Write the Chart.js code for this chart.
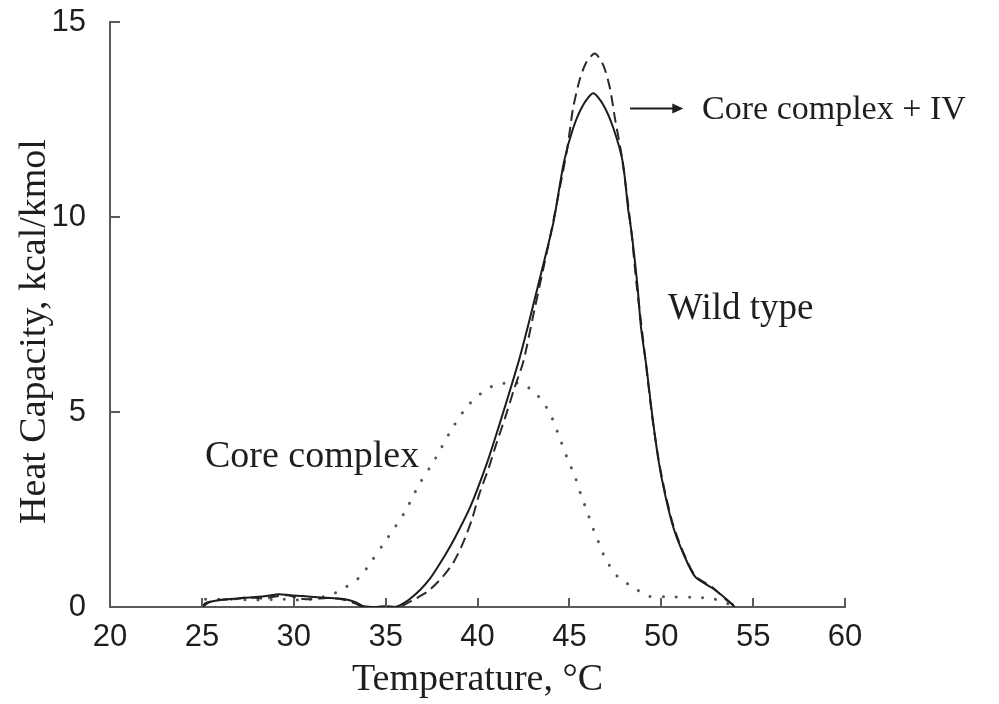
<!DOCTYPE html>
<html>
<head>
<meta charset="utf-8">
<title>Heat capacity</title>
<script src="https://cdn.jsdelivr.net/npm/chart.js@4/dist/chart.umd.min.js"></script>
<style>
  html, body { margin: 0; padding: 0; background: #ffffff; }
  canvas { display: block; }
</style>
</head>
<body>
<canvas id="cp" width="999" height="704"></canvas>
<script>
// Temperature axis ticks (°C) and heat-capacity ticks (kcal/kmol)
const tempTicks = [20, 25, 30, 35, 40, 45, 50, 55, 60];
const cpTicks = [0, 5, 10, 15];

// Wild type (solid)
const wildT = [25.0, 25.2, 25.6, 26.3, 27.0, 27.8, 28.5, 29.2, 29.8, 30.5, 31.3, 32.0, 32.8, 33.4, 33.8, 34.5, 35.0, 35.5, 35.8,
  36.3, 36.9, 37.4, 37.8, 38.2, 38.7, 39.6, 40.5, 41.2, 41.7, 42.3, 42.8, 43.3, 43.8, 44.15, 44.7, 45.2, 45.75, 46.3,
  46.85, 47.4, 47.9, 48.2, 48.4, 48.7, 48.9, 49.2, 49.5, 49.85, 50.2, 50.65, 51.2, 51.85, 52.8, 53.6, 54.0];
const wildCp = [0.0, 0.1, 0.15, 0.2, 0.22, 0.25, 0.28, 0.33, 0.3, 0.28, 0.25, 0.23, 0.2, 0.12, 0.02, 0.0, 0.02, 0.0, 0.05,
  0.2, 0.45, 0.72, 1.0, 1.3, 1.71, 2.56, 3.67, 4.69, 5.45, 6.4, 7.3, 8.25, 9.2, 9.9, 11.4, 12.27, 12.87, 13.17,
  12.87, 12.27, 11.42, 10.2, 9.55, 8.27, 7.16, 6.14, 4.95, 3.76, 2.9, 2.05, 1.37, 0.77, 0.48, 0.18, 0.0];

// Core complex + IV (dashed)
const coreIVT = [25.0, 25.4, 26.0, 26.8, 27.5, 28.3, 29.0, 29.7, 30.3, 31.0, 31.8, 32.6, 33.3, 33.8, 35.5, 35.9,
  36.5, 37.3, 38.1, 38.7, 39.2, 39.7, 40.1, 40.6, 41.0, 41.5, 42.0, 42.5, 43.0, 43.5, 44.0, 44.5, 44.9, 45.2,
  45.58, 45.94, 46.39, 46.85, 47.21, 47.48, 47.84, 48.15, 48.4, 48.65, 48.95, 49.2, 49.5, 49.85, 50.2, 50.65,
  51.2, 51.85, 52.8, 53.5, 54.1];
const coreIVCp = [0.0, 0.12, 0.18, 0.2, 0.25, 0.22, 0.27, 0.3, 0.22, 0.2, 0.23, 0.2, 0.1, 0.0, 0.0, 0.03,
  0.18, 0.4, 0.77, 1.15, 1.63, 2.25, 2.9, 3.55, 4.15, 4.85, 5.6, 6.3, 7.4, 8.5, 9.6, 10.8, 11.8, 12.79,
  13.55, 13.98, 14.19, 13.89, 13.3, 12.53, 11.59, 10.5, 9.5, 8.3, 7.1, 6.1, 4.9, 3.8, 2.95, 2.1,
  1.4, 0.8, 0.5, 0.2, 0.0];

// Core complex (dotted)
const coreT = [25.2, 26.5, 28.0, 29.5, 30.5, 31.5, 32.2, 32.8, 33.6, 34.15, 35.15, 36.05, 36.8, 37.7, 38.5, 39.4,
  40.15, 40.85, 41.8, 42.5, 43.2, 43.75, 44.1, 44.5, 44.9, 45.3, 45.65, 46.0, 46.3, 46.6, 46.9, 47.2, 47.65,
  48.5, 49.3, 50.2, 51.75, 52.65, 53.4, 53.9];
const coreCp = [0.2, 0.2, 0.18, 0.2, 0.18, 0.25, 0.35, 0.5, 0.77, 1.12, 1.8, 2.44, 3.12, 3.8, 4.48, 5.12,
  5.46, 5.67, 5.75, 5.7, 5.46, 5.12, 4.8, 4.3, 3.8, 3.35, 2.85, 2.4, 2.0, 1.65, 1.3, 1.05, 0.77,
  0.5, 0.28, 0.26, 0.25, 0.22, 0.14, 0.0];

const toPoints = (xs, ys) => xs.map((x, i) => ({ x: x, y: ys[i] }));

const INK = '#1e1e1e';
const AXIS = '#5a5a5a';
const SERIF = '"Liberation Serif", "Times New Roman", serif';

// Inward tick marks on both axes
const inwardTicks = {
  id: 'inwardTicks',
  afterDatasetsDraw(chart) {
    const { ctx, scales: { x, y } } = chart;
    ctx.save();
    ctx.strokeStyle = AXIS;
    ctx.lineWidth = 2;
    ctx.beginPath();
    tempTicks.forEach(t => {
      const px = Math.round(x.getPixelForValue(t));
      ctx.moveTo(px, y.bottom);
      ctx.lineTo(px, y.bottom - 9);
    });
    cpTicks.forEach(v => {
      const py = Math.round(y.getPixelForValue(v));
      ctx.moveTo(x.left, py);
      ctx.lineTo(x.left + 10, py);
    });
    ctx.stroke();
    ctx.restore();
  }
};

// Vertical axis title, curve labels and the arrow pointing at the Core complex + IV peak
const curveLabels = {
  id: 'curveLabels',
  afterDraw(chart, args, opts) {
    const { ctx, chartArea, scales: { x, y } } = chart;
    ctx.save();
    ctx.fillStyle = INK;

    // y-axis title
    ctx.save();
    ctx.translate(opts.yTitle.x, (chartArea.top + chartArea.bottom) / 2 + opts.yTitle.shift);
    ctx.rotate(-Math.PI / 2);
    ctx.font = opts.yTitle.size + 'px ' + SERIF;
    ctx.textAlign = 'center';
    ctx.textBaseline = 'middle';
    ctx.fillText(opts.yTitle.text, 0, 0);
    ctx.restore();

    ctx.textAlign = 'left';
    ctx.textBaseline = 'alphabetic';
    opts.labels.forEach(l => {
      ctx.font = l.size + 'px ' + SERIF;
      ctx.fillText(l.text, x.getPixelForValue(l.at[0]), y.getPixelForValue(l.at[1]));
    });
    const a = opts.arrow;
    const x0 = x.getPixelForValue(a.from[0]);
    const x1 = x.getPixelForValue(a.to[0]);
    const ay = y.getPixelForValue(a.from[1]);
    ctx.strokeStyle = INK;
    ctx.lineWidth = 2;
    ctx.beginPath();
    ctx.moveTo(x0, ay);
    ctx.lineTo(x1 - 8, ay);
    ctx.stroke();
    ctx.beginPath();
    ctx.moveTo(x1, ay);
    ctx.lineTo(x1 - 11, ay - 5);
    ctx.lineTo(x1 - 11, ay + 5);
    ctx.closePath();
    ctx.fill();
    ctx.restore();
  }
};

new Chart(document.getElementById('cp'), {
  type: 'line',
  data: {
    datasets: [
      {
        label: 'Wild type',
        data: toPoints(wildT, wildCp),
        borderColor: '#1c1c1c',
        borderWidth: 2,
        pointRadius: 0,
        tension: 0.25
      },
      {
        label: 'Core complex + IV',
        data: toPoints(coreIVT, coreIVCp),
        borderColor: '#2a2a2a',
        borderWidth: 2,
        borderDash: [11, 6],
        pointRadius: 0,
        tension: 0.25
      },
      {
        label: 'Core complex',
        data: toPoints(coreT, coreCp),
        borderColor: '#555555',
        borderWidth: 3,
        borderDash: [0.1, 13],
        borderCapStyle: 'round',
        pointRadius: 0,
        tension: 0.3
      }
    ]
  },
  options: {
    responsive: false,
    animation: false,
    devicePixelRatio: 1,
    layout: { padding: { top: 22, right: 154, left: 0, bottom: 0 } },
    plugins: {
      legend: { display: false },
      tooltip: { enabled: false },
      curveLabels: {
        yTitle: { text: 'Heat Capacity, kcal/kmol', x: 35, shift: 17, size: 38 },
        labels: [
          { text: 'Core complex', at: [25.17, 3.58], size: 38 },
          { text: 'Wild type', at: [50.37, 7.39], size: 37 },
          { text: 'Core complex + IV', at: [52.22, 12.52], size: 34 }
        ],
        arrow: { from: [48.3, 12.78], to: [51.2, 12.78] }
      }
    },
    scales: {
      x: {
        type: 'linear',
        min: 20,
        max: 60,
        afterFit(scale) { scale.height = 97; },
        afterBuildTicks(scale) { scale.ticks = tempTicks.map(v => ({ value: v })); },
        border: { display: true, color: AXIS, width: 2 },
        grid: { display: false, drawTicks: false },
        ticks: {
          padding: 12,
          color: INK,
          font: { family: '"Liberation Sans", Arial, sans-serif', size: 31 }
        },
        title: {
          display: true,
          text: 'Temperature, °C',
          color: INK,
          font: { family: SERIF, size: 38, lineHeight: 1 },
          padding: { top: 0, bottom: 5 }
        }
      },
      y: {
        type: 'linear',
        min: 0,
        max: 15,
        afterFit(scale) {
          scale.width = 110;
          scale.paddingTop = 0;
          scale.paddingBottom = 0;
        },
        afterBuildTicks(scale) { scale.ticks = cpTicks.map(v => ({ value: v })); },
        border: { display: true, color: AXIS, width: 2 },
        grid: { display: false, drawTicks: false },
        ticks: {
          padding: 24,
          color: INK,
          font: { family: '"Liberation Sans", Arial, sans-serif', size: 31 }
        },
        title: { display: false }
      }
    }
  },
  plugins: [inwardTicks, curveLabels]
});
</script>
</body>
</html>
